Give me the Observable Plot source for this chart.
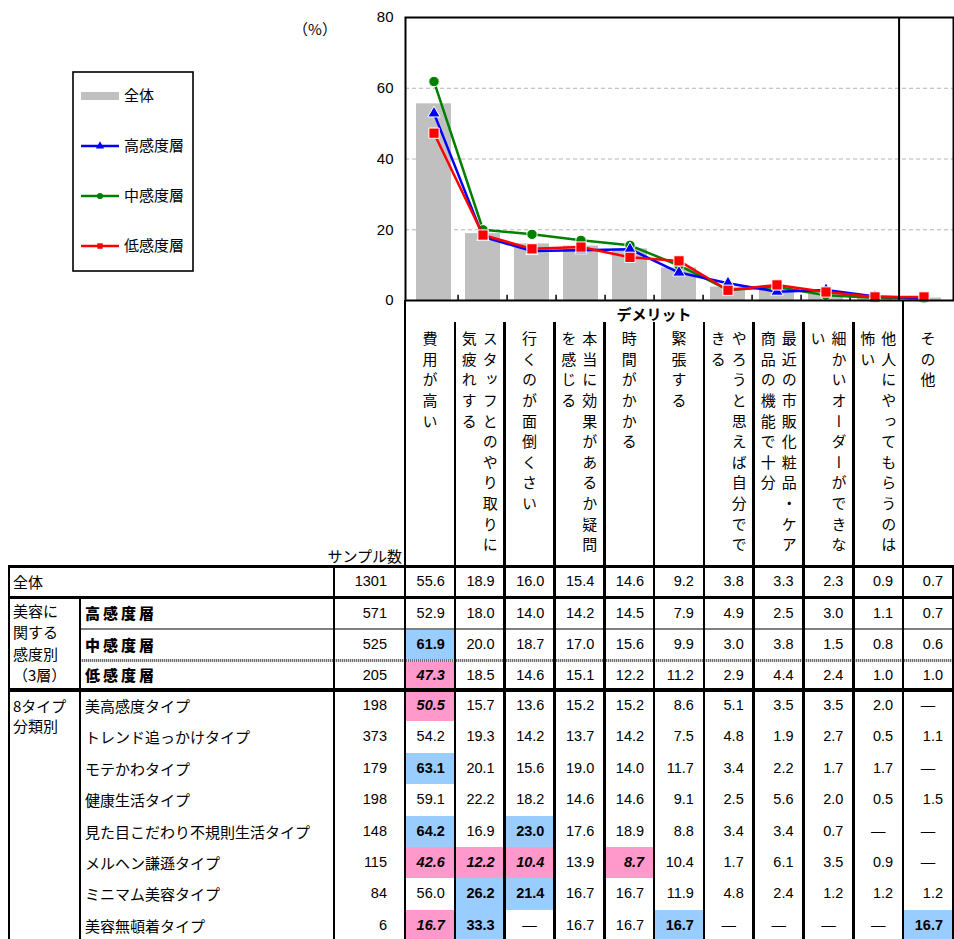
<!DOCTYPE html>
<html><head><meta charset="utf-8">
<script src="https://cdn.jsdelivr.net/npm/d3@7"></script>
<script src="https://cdn.jsdelivr.net/npm/@observablehq/plot@0.6"></script>
<style>
body{margin:0;background:#fff;}
#root{position:relative;width:954px;height:939px;overflow:hidden;font-family:"Noto Sans CJK JP",sans-serif;color:#000;}
.a{position:absolute;box-sizing:border-box;}
.num{font-family:"Liberation Sans",Arial,sans-serif;font-size:14.5px;}
.vt{display:inline-block;writing-mode:vertical-rl;font-size:15px;letter-spacing:5.6px;line-height:21px;text-align:start;}
</style></head><body><div id="root"></div>
<script>
// ---------- data ----------
const categories = ["費用が高い","スタッフとのやり取りに気疲れする","行くのが面倒くさい","本当に効果があるか疑問を感じる","時間がかかる","緊張する","やろうと思えば自分でできる","最近の市販化粧品・ケア商品の機能で十分","細かいオーダーができない","他人にやってもらうのは怖い","その他"];
const headerLines = [["費用が高い"],["スタッフとのやり取りに","気疲れする"],["行くのが面倒くさい"],["本当に効果があるか疑問","を感じる"],["時間がかかる"],["緊張する"],["やろうと思えば自分でで","きる"],["最近の市販化粧品・ケア","商品の機能で十分"],["細かいオーダーができな","い"],["他人にやってもらうのは","怖い"],["その他"]];
const rowLabels = ["全体","高感度層","中感度層","低感度層","美高感度タイプ","トレンド追っかけタイプ","モテかわタイプ","健康生活タイプ","見た目こだわり不規則生活タイプ","メルヘン謙遜タイプ","ミニマム美容タイプ","美容無頓着タイプ"];
const sampleSizes = [1301,571,525,205,198,373,179,198,148,115,84,6];
const rowAll      = [55.6,18.9,16.0,15.4,14.6,9.2,3.8,3.3,2.3,0.9,0.7];
const rowHigh     = [52.9,18.0,14.0,14.2,14.5,7.9,4.9,2.5,3.0,1.1,0.7];
const rowMid      = [61.9,20.0,18.7,17.0,15.6,9.9,3.0,3.8,1.5,0.8,0.6];
const rowLow      = [47.3,18.5,14.6,15.1,12.2,11.2,2.9,4.4,2.4,1.0,1.0];
const rowBiko     = [50.5,15.7,13.6,15.2,15.2,8.6,5.1,3.5,3.5,2.0,null];
const rowTrend    = [54.2,19.3,14.2,13.7,14.2,7.5,4.8,1.9,2.7,0.5,1.1];
const rowMote     = [63.1,20.1,15.6,19.0,14.0,11.7,3.4,2.2,1.7,1.7,null];
const rowKenko    = [59.1,22.2,18.2,14.6,14.6,9.1,2.5,5.6,2.0,0.5,1.5];
const rowMitame   = [64.2,16.9,23.0,17.6,18.9,8.8,3.4,3.4,0.7,null,null];
const rowMeruhen  = [42.6,12.2,10.4,13.9,8.7,10.4,1.7,6.1,3.5,0.9,null];
const rowMinimum  = [56.0,26.2,21.4,16.7,16.7,11.9,4.8,2.4,1.2,1.2,1.2];
const rowMutonjaku= [16.7,33.3,null,16.7,16.7,16.7,null,null,null,null,16.7];
const tableRows = [rowAll,rowHigh,rowMid,rowLow,rowBiko,rowTrend,rowMote,rowKenko,rowMitame,rowMeruhen,rowMinimum,rowMutonjaku];
const seriesNames = ["高感度層","中感度層","低感度層"];
const seriesValues = [rowHigh,rowMid,rowLow];
const seriesColors = ["#0000ff","#008000","#ff0000"];
const seriesSymbols = ["triangle","circle","square"];
const seriesR = [4.6,5.2,5.8];
const yTicks = [0,20,40,60,80];
const gridTicks = [20,40,60];

// ---------- chart ----------
const barData = categories.map((c,i)=>({cat:c,value:rowAll[i]}));
const drawOrder = [1,0,2];
const seriesMarks = drawOrder.flatMap(k=>{
  const d = categories.map((c,i)=>({cat:c,value:seriesValues[k][i]}));
  return [
    Plot.line(d,{x:"cat",y:"value",stroke:seriesColors[k],strokeWidth:2.5}),
    Plot.dot(d,{x:"cat",y:"value",symbol:seriesSymbols[k],r:seriesR[k],fill:seriesColors[k],stroke:"#fff",strokeWidth:1})
  ];
});
const W = 954, plotLeft = 405, plotRight = 953;
const chart = Plot.plot({
  width:W, height:305, marginLeft:plotLeft, marginRight:W-plotRight, marginTop:17, marginBottom:5,
  style:{fontFamily:"'Liberation Sans',Arial,sans-serif",fontSize:"15px",background:"transparent",overflow:"visible",color:"#000"},
  x:{domain:categories,paddingInner:0.28,paddingOuter:0.14,axis:null},
  y:{domain:[0,80],axis:null},
  marks:[
    Plot.ruleY(gridTicks,{stroke:"#b4b4b4",strokeDasharray:"4,3",strokeWidth:1}),
    Plot.barY(barData,{x:"cat",y:"value",fill:"#c0c0c0"}),
    Plot.ruleX(categories.slice(1),{y1:0,y2:1.5,dx:-(plotRight-plotLeft)/categories.length/2,stroke:"#000",strokeWidth:1.5}),
    ...seriesMarks,
    Plot.ruleX(["その他"],{dx:-(plotRight-plotLeft)/categories.length/2,stroke:"#000",strokeWidth:2}),
    Plot.frame({stroke:"#000",strokeWidth:2}),
    Plot.axisY({ticks:yTicks,tickSize:0,tickPadding:12,label:null,fontSize:15})
  ]
});
const root = d3.select("#root");
const chartDiv = root.append("div").attr("class","a").style("left","0px").style("top","0px");
chartDiv.node().appendChild(chart);

function box(x,y,w,h){return root.append("div").attr("class","a").style("left",x+"px").style("top",y+"px").style("width",w+"px").style("height",h+"px");}

// (%) label
box(290,18,50,24).style("font-size","15px").style("text-align","center").text("（%）");

// ---------- legend ----------
const leg = root.append("svg").attr("class","a").style("left","72px").style("top","71px").attr("width",122).attr("height",201);
leg.append("rect").attr("x",1).attr("y",1).attr("width",120).attr("height",199).attr("fill","#fff").attr("stroke","#000").attr("stroke-width",1.6);
const legItems = [{name:"全体",type:"bar"}].concat(seriesNames.map((n,k)=>({name:n,type:"line",k})));
legItems.forEach((it,i)=>{
  const cy = 25 + i*50;
  if(it.type==="bar"){
    leg.append("rect").attr("x",9).attr("y",cy-4).attr("width",38).attr("height",8).attr("fill","#c0c0c0");
  } else {
    leg.append("line").attr("x1",9).attr("x2",47).attr("y1",cy).attr("y2",cy).attr("stroke",seriesColors[it.k]).attr("stroke-width",2.5);
    const sym = {triangle:d3.symbolTriangle,circle:d3.symbolCircle,square:d3.symbolSquare}[seriesSymbols[it.k]];
    leg.append("path").attr("d",d3.symbol(sym,30)()).attr("transform",`translate(28,${cy})`).attr("fill",seriesColors[it.k]);
  }
  leg.append("text").attr("x",52).attr("y",cy).attr("dy","0.36em").attr("font-size",15).attr("font-family","Noto Sans CJK JP").text(it.name);
});

// ---------- table geometry ----------
const step = (plotRight-plotLeft)/categories.length;
const colEdges = d3.range(categories.length+1).map(i=>plotLeft+i*step);
const tableLeft = 8, labelSplit = 80, sampleLeft = 334;
const rowEdges = [566,597,629,660,690];
for(let k=1;k<=8;k++) rowEdges.push(690+k*31.4);
const headerTop = 300;

// header texts
box(plotLeft,304,colEdges[10]-plotLeft,20).style("font-size","15px").style("font-weight","bold").style("text-align","center").style("line-height","20px").text("デメリット");
headerLines.forEach((lines,i)=>{
  const d = box(colEdges[i],331,step,232).style("text-align","center");
  d.append("span").attr("class","vt").html(lines.join("<br>"));
});
box(300,545,102,22).style("font-size","15px").style("text-align","right").style("line-height","22px").text("サンプル数");

// cell backgrounds & numbers
const refRow = tableRows[0];
tableRows.forEach((vals,r)=>{
  const y0 = rowEdges[r], y1 = rowEdges[r+1], h = y1-y0;
  vals.forEach((v,c)=>{
    const diff = v==null ? 0 : v - refRow[c];
    const hi = r>1 && v!=null && diff>=5, lo = r>1 && v!=null && diff<=-5;
    const cell = box(colEdges[c],y0,step,h).style("line-height",h+"px").attr("class","a num");
    if(hi) cell.style("background","#99ccff").style("font-weight","bold");
    if(lo) cell.style("background","#ff99cc").style("font-weight","bold").style("font-style","italic");
    if(v==null) cell.style("text-align","center").text("—");
    else cell.style("text-align","right").style("padding-right","10px").text(v.toFixed(1));
  });
  box(sampleLeft,y0,plotLeft-sampleLeft,h).attr("class","a num").style("line-height",h+"px").style("text-align","right").style("padding-right","18px").text(sampleSizes[r]);
  const lab = box(r===0?tableLeft:labelSplit,y0,r===0?sampleLeft-tableLeft:sampleLeft-labelSplit,h).style("line-height",h+"px").style("padding-left","5px").style("font-size","15px").style("white-space","nowrap").text(rowLabels[r]);
  if(r>=1 && r<=3) lab.style("font-weight","900").style("letter-spacing","3px");
});
// group labels
box(tableLeft,600,labelSplit-tableLeft,90).style("padding-left","5px").style("font-size","15px").style("line-height","21.3px").html("美容に<br>関する<br>感度別<br>（3層）");
box(tableLeft,696,labelSplit-tableLeft,60).style("padding-left","5px").style("font-size","15px").style("line-height","20px").html("8タイプ<br>分類別");

// ---------- grid lines ----------
function hline(x0,x1,y,t,bg){box(x0,y-t/2,x1-x0,t).style("background",bg);}
function vline(x,y0,y1,t){box(x-t/2,y0,t,y1-y0).style("background","#000");}
const tableBottom = 939, tableRight = plotRight+1;
hline(tableLeft,tableRight,rowEdges[0],3,"#000");
hline(tableLeft,tableRight,rowEdges[1],3,"#000");
hline(labelSplit,tableRight,rowEdges[2],2,"#808080");
hline(labelSplit,tableRight,rowEdges[3],3,"repeating-linear-gradient(90deg,#707070 0 1px,#d0d0d0 1px 2px)");
hline(tableLeft,tableRight,rowEdges[4],3.5,"#000");
vline(tableLeft+1,rowEdges[0],tableBottom,2);
vline(labelSplit,rowEdges[1],tableBottom,2);
vline(sampleLeft,rowEdges[0],tableBottom,2);
vline(plotLeft,headerTop,tableBottom,2);
colEdges.slice(1,-2).forEach(x=>vline(x,322,tableBottom,2.5));
vline(colEdges[10],headerTop,tableBottom,2.5);
vline(plotRight,rowEdges[0],tableBottom,2);
</script></body></html>
